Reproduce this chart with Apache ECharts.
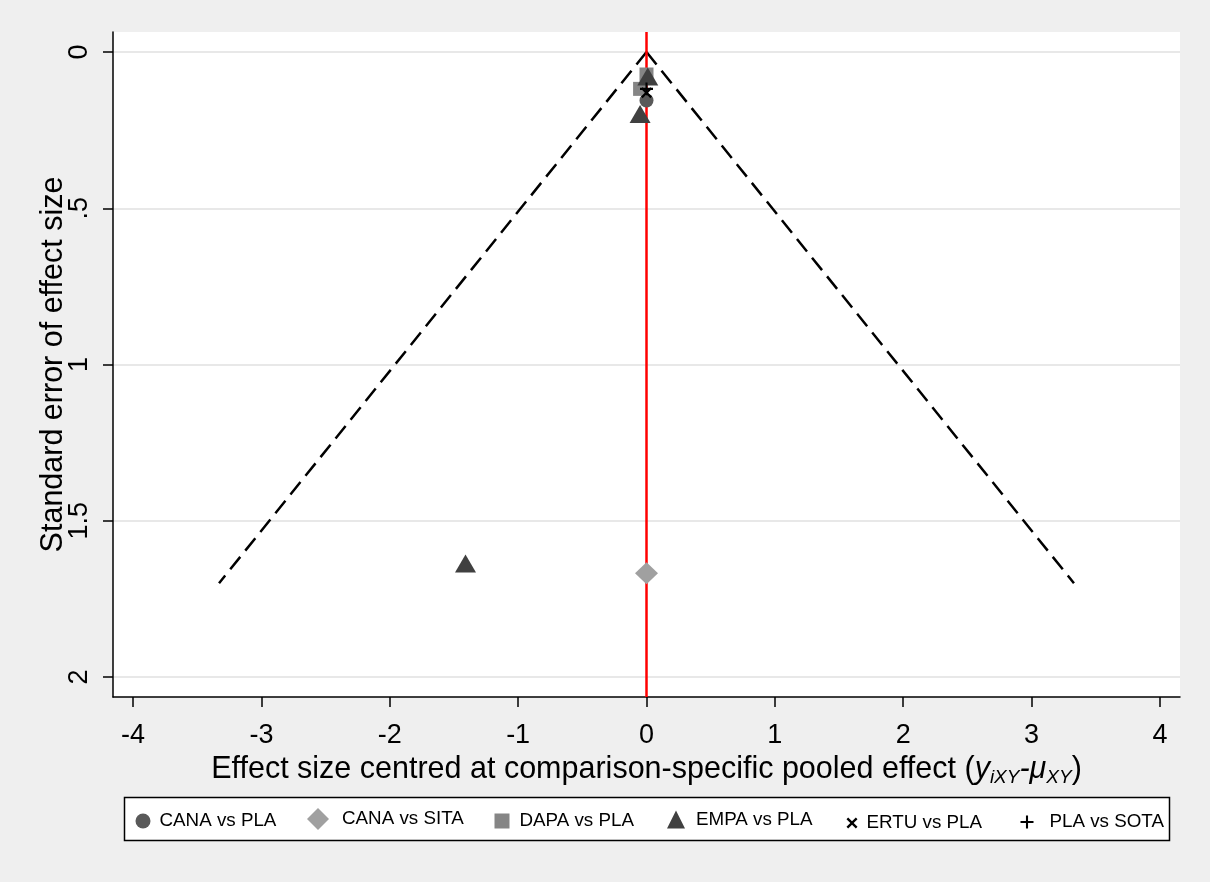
<!DOCTYPE html>
<html>
<head>
<meta charset="utf-8">
<script src="https://cdn.jsdelivr.net/npm/echarts@6/dist/echarts.min.js"></script>
<style>
  html, body { margin: 0; padding: 0; background: #efefef; }
  #chart { width: 1210px; height: 882px; }
</style>
</head>
<body>
<div id="chart"></div>
<script>
// Comparison groups
const comparisons = ['CANA vs PLA', 'CANA vs SITA', 'DAPA vs PLA', 'EMPA vs PLA', 'ERTU vs PLA', 'PLA vs SOTA'];

// Effect size centred at the comparison-specific pooled effect (x) and its standard error (se)
const canaPlaX = [0.0];
const canaPlaSE = [0.155];
const canaSitaX = [0.0];
const canaSitaSE = [1.668];
const dapaPlaX = [0.0, -0.05];
const dapaPlaSE = [0.072, 0.118];
const empaPlaX = [0.01, -0.05, -1.41];
const empaPlaSE = [0.078, 0.198, 1.637];
const ertuPlaX = [0.0];
const ertuPlaSE = [0.13];
const plaSotaX = [0.0];
const plaSotaSE = [0.118];

// Pseudo 95% confidence limits of the funnel
const funnelSE = [0, 1.7];
const funnelLowerX = [0, -3.33];
const funnelUpperX = [0, 3.33];

// Line of no difference from the pooled effect
const nullLine = [0];

// Axis ticks
const xTicks = [-4, -3, -2, -1, 0, 1, 2, 3, 4];
const xTickLabels = ['-4', '-3', '-2', '-1', '0', '1', '2', '3', '4'];
const yTicks = [0, 0.5, 1, 1.5, 2];
const yTickLabels = ['0', '.5', '1', '1.5', '2'];

const FONT = '"Liberation Sans", Arial, sans-serif';
const pairs = (xs, ys) => xs.map((v, i) => [v, ys[i]]);

const X_PATH = 'path://M0,1.5L1.5,0L5,3.5L8.5,0L10,1.5L6.5,5L10,8.5L8.5,10L5,6.5L1.5,10L0,8.5L3.5,5Z';
const PLUS_PATH = 'path://M4.2,0H5.8V4.2H10V5.8H5.8V10H4.2V5.8H0V4.2H4.2Z';

const markerStyles = [
  { symbol: 'circle',   size: 14,       color: '#595959' },
  { symbol: 'diamond',  size: [23, 22], color: '#a0a0a0' },
  { symbol: 'rect',     size: 14,       color: '#858585' },
  { symbol: 'triangle', size: [21, 18], color: '#404040' },
  { symbol: X_PATH,     size: 11,       color: '#000000' },
  { symbol: PLUS_PATH,  size: 13,       color: '#000000' }
];
const groupData = [
  pairs(canaPlaX, canaPlaSE),
  pairs(canaSitaX, canaSitaSE),
  pairs(dapaPlaX, dapaPlaSE),
  pairs(empaPlaX, empaPlaSE),
  pairs(ertuPlaX, ertuPlaSE),
  pairs(plaSotaX, plaSotaSE)
];

const funnelLine = (name, xs) => ({
  name: name,
  type: 'line',
  data: pairs(xs, funnelSE),
  symbol: 'none',
  silent: true,
  z: 2,
  lineStyle: { color: '#000', width: 2.5, type: [16, 8] }
});

const series = [
  Object.assign(funnelLine('lower', funnelLowerX), {
    markLine: {
      silent: true,
      symbol: ['none', 'none'],
      label: { show: false },
      lineStyle: { color: '#ff0000', width: 2.5, type: 'solid' },
      data: nullLine.map(v => ({ xAxis: v }))
    }
  }),
  funnelLine('upper', funnelUpperX)
].concat(comparisons.map((name, i) => ({
  name: name,
  type: 'scatter',
  data: groupData[i],
  symbol: markerStyles[i].symbol,
  symbolSize: markerStyles[i].size,
  z: 5,
  itemStyle: { color: markerStyles[i].color, opacity: 1 }
})));

// Legend layout: icon centre, icon size and text offset per entry
const legendLayout = [
  { cx: 143, s: 15, pad: 4 },
  { cx: 318, s: 22, pad: 8 },
  { cx: 502, s: 15, pad: 5 },
  { cx: 676, s: 18, pad: 6 },
  { cx: 852, s: 11, pad: 4 },
  { cx: 1027, s: 13, pad: 11 }
];
const legendMidY = 819;
const legends = comparisons.map((name, i) => ({
  data: [name],
  left: legendLayout[i].cx - legendLayout[i].s / 2,
  top: legendMidY - legendLayout[i].s / 2,
  itemWidth: legendLayout[i].s,
  itemHeight: legendLayout[i].s,
  padding: 0,
  selectedMode: false,
  textStyle: { fontSize: 18.8, color: '#000', fontFamily: FONT, padding: [0, 0, 0, legendLayout[i].pad] }
}));

const chart = echarts.init(document.getElementById('chart'), null, { renderer: 'canvas' });
chart.setOption({
  animation: false,
  backgroundColor: '#efefef',
  textStyle: { fontFamily: FONT },
  grid: { left: 113, right: 30, top: 32, bottom: 185, show: true, backgroundColor: '#ffffff', borderWidth: 0 },
  graphic: [{
    type: 'rect',
    z: -1,
    shape: { x: 124.5, y: 797.5, width: 1045, height: 43 },
    style: { fill: '#ffffff', stroke: '#000000', lineWidth: 1.5 }
  }],
  legend: legends,
  xAxis: {
    type: 'value',
    min: -4.156,
    max: 4.156,
    axisLine: { show: true, onZero: false, lineStyle: { color: '#000', width: 1.5 } },
    axisTick: { show: true, length: 10, customValues: xTicks, lineStyle: { color: '#000', width: 1.5 } },
    axisLabel: {
      customValues: xTicks,
      formatter: v => xTickLabels[xTicks.indexOf(v)],
      fontSize: 27, color: '#000', margin: 25, fontFamily: FONT
    },
    splitLine: { show: false },
    name: 'Effect size centred at comparison-specific pooled effect ({it|y}{sub|iXY}{it|-μ}{sub|XY})',
    nameLocation: 'middle',
    nameMoveOverlap: false,
    nameGap: 55,
    nameTextStyle: {
      fontSize: 30.5, color: '#000', fontFamily: FONT, lineHeight: 35,
      rich: {
        it: { fontSize: 30.5, fontStyle: 'italic', color: '#000', fontFamily: FONT, lineHeight: 35 },
        sub: { fontSize: 19, fontStyle: 'italic', color: '#000', fontFamily: FONT, lineHeight: 14, verticalAlign: 'bottom' }
      }
    }
  },
  yAxis: {
    type: 'value',
    inverse: true,
    min: -0.064,
    max: 2.064,
    axisLine: { show: true, onZero: false, lineStyle: { color: '#000', width: 1.5 } },
    axisTick: { show: true, length: 10, customValues: yTicks, lineStyle: { color: '#000', width: 1.5 } },
    axisLabel: {
      customValues: yTicks,
      rotate: 90,
      formatter: v => yTickLabels[yTicks.indexOf(v)],
      fontSize: 27, color: '#000', margin: 20, fontFamily: FONT
    },
    splitLine: { show: true, lineStyle: { color: '#e8e8e8', width: 2 } },
    name: 'Standard error of effect size',
    nameLocation: 'middle',
    nameMoveOverlap: false,
    nameRotate: 90,
    nameGap: 44,
    nameTextStyle: { fontSize: 30.5, color: '#000', fontFamily: FONT }
  },
  series: series
});
</script>
</body>
</html>
